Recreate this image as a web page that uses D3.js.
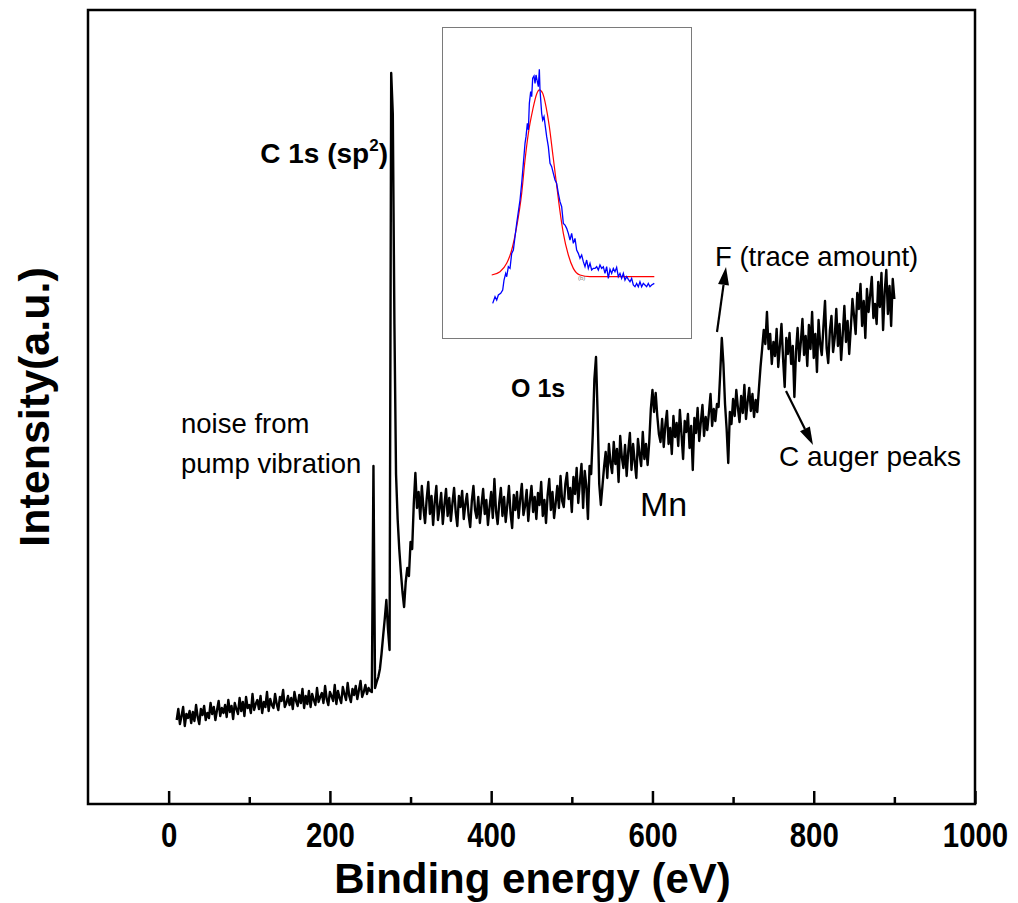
<!DOCTYPE html>
<html>
<head>
<meta charset="utf-8">
<script src="https://cdn.jsdelivr.net/npm/d3@7"></script>
<style>
  html, body { margin: 0; padding: 0; background: #fff; }
  svg { display: block; font-family: "Liberation Sans", Arial, sans-serif; }
</style>
</head>
<body>
<svg id="chart" width="1018" height="903"></svg>
<script>
// ---------------- DATA ----------------
// XPS survey: binding energy grid (eV) and intensity (a.u.)
const energyFirst = 10;      // eV of first sample
const energyStepEv = 2;      // sampling interval, eV
const intensity = [
  84, 95, 80, 88, 97, 78, 90, 86, 93, 81,          // 10-28
  92, 83, 99, 87, 80, 95, 89, 98, 84, 91,          // 30-48
  86, 101, 90, 97, 84, 94, 103, 88, 96, 91,        // 50-68
  99, 87, 104, 92, 98, 85, 101, 95, 90, 106,       // 70-88
  93, 102, 88, 107, 96, 99, 91, 110, 94, 100,      // 90-108
  104, 95, 108, 91, 102, 97, 112, 93, 105, 99,     // 110-128
  96, 110, 100, 94, 107, 103, 114, 97, 101, 108,   // 130-148
  99, 106, 95, 112, 103, 98, 109, 101, 115, 96,    // 150-168
  108, 100, 113, 97, 110, 104, 99, 116, 102, 107,  // 170-188
  111, 101, 118, 105, 99, 112, 108, 103, 119, 100, // 190-208
  113, 106, 101, 117, 110, 104, 121, 108, 102, 115,// 210-228
  109, 118, 105, 114, 123, 107, 112, 119, 110, 116,// 230-248
  113, 112, 338, 116, 122, 127, 135, 150, 168, 185,// 250-268
  204, 175, 154, 731, 690, 480, 330, 285, 255, 232,// 270-288
  212, 197, 222, 236, 228, 262, 255, 300, 331, 296,// 290-308
  312, 285, 318, 296, 281, 305, 322, 290, 308, 279,// 310-328
  302, 318, 284, 296, 311, 280, 299, 315, 288, 306,// 330-348
  283, 301, 316, 292, 278, 308, 297, 313, 285, 300,// 350-368
  310, 289, 277, 303, 318, 294, 286, 307, 281, 299,// 370-388
  315, 290, 304, 279, 297, 312, 286, 325, 293, 280,// 390-408
  301, 316, 288, 307, 282, 299, 318, 291, 276, 309,// 410-428
  294, 312, 286, 305, 320, 289, 298, 314, 283, 303,// 430-448
  318, 292, 307, 285, 311, 299, 322, 288, 304, 281,// 450-468
  309, 325, 294, 312, 286, 301, 318, 296, 328, 303,// 470-488
  297, 320, 331, 305, 316, 292, 327, 310, 336, 301,// 490-508
  322, 340, 296, 333, 318, 285, 338, 330, 370, 425,// 510-528
  447, 390, 320, 299, 318, 337, 352, 326, 360, 341,// 530-548
  331, 362, 340, 355, 322, 368, 347, 336, 359, 328,// 550-568
  353, 371, 334, 360, 342, 326, 365, 350, 338, 372,// 570-588
  345, 360, 339, 362, 395, 414, 392, 411, 388, 370,// 590-608
  362, 385, 357, 379, 393, 360, 376, 350, 388, 367,// 610-628
  381, 358, 394, 370, 345, 383, 372, 390, 356, 378,// 630-648
  334, 386, 371, 396, 363, 382, 399, 368, 387, 374,// 650-668
  391, 410, 378, 395, 383, 400, 397, 430, 466, 440,// 670-688
  400, 375, 341, 392, 380, 405, 388, 414, 396, 382,// 690-708
  408, 391, 419, 385, 402, 416, 393, 410, 387, 404,// 710-728
  392, 415, 437, 455, 474, 460, 492, 455, 470, 440,// 730-748
  462, 448, 475, 437, 458, 480, 445, 417, 466, 450,// 750-768
  471, 440, 458, 407, 452, 476, 443, 462, 485, 449,// 770-788
  468, 438, 479, 455, 492, 446, 470, 432, 484, 460,// 790-808
  449, 477, 503, 456, 441, 473, 488, 452, 466, 495,// 810-828
  458, 480, 444, 470, 498, 462, 483, 450, 476, 505,// 830-848
  488, 470, 511, 495, 520, 478, 503, 466, 515, 492,// 850-868
  509, 527, 486, 500, 480, 522, 497, 531, 474, 512,// 870-888
  534, 490, 518, 478, 525, 505                     // 890-900
];
const energy = intensity.map((_, i) => energyFirst + energyStepEv * i);

// Inset: measured peak (blue) and Gaussian fit (red), arbitrary units
const insetMeasured = [
  [3,10],[10,30],[15,20],[20,35],[27,40],[33,50],[37,80],[42,100],[45,90],[50,120],
  [55,115],[60,160],[65,170],[70,210],[75,250],[80,285],[85,320],[90,370],[95,430],[100,490],
  [103,510],[107,550],[110,530],[113,610],[117,645],[120,630],[123,685],[127,692],[130,670],[133,695],
  [137,675],[140,660],[143,712],[145,650],[150,580],[153,560],[157,570],[161,540],[165,510],[170,480],
  [175,430],[180,420],[185,400],[190,380],[195,370],[200,340],[205,315],[210,300],[215,250],[220,245],
  [225,235],[230,220],[235,200],[240,220],[245,190],[250,205],[255,170],[260,160],[265,145],[270,155],
  [275,135],[280,120],[285,140],[290,115],[295,130],[300,110],[305,115],[310,115],[315,120],[320,110],
  [325,125],[330,115],[335,120],[340,100],[345,120],[350,85],[355,112],[360,100],[365,115],[370,105],
  [375,118],[380,90],[385,100],[390,85],[395,100],[400,80],[405,90],[410,82],[415,75],[420,85],
  [425,65],[430,60],[435,70],[440,60],[445,75],[450,60],[455,70],[460,65],[465,60],[470,70],
  [475,60],[480,65],[488,70]
];
const insetFit = [
  [0,95],[25,105],[45,130],[60,170],[75,240],[90,340],[100,440],[110,520],[123,590],[135,638],
  [143,650],[153,640],[163,600],[173,540],[183,460],[193,380],[203,300],[215,220],[230,155],[245,115],
  [265,95],[295,90],[488,90]
];

const xTickMajor = [0, 200, 400, 600, 800, 1000];
const xTickMinor = [100, 300, 500, 700, 900];
const xTickLabels = ["0", "200", "400", "600", "800", "1000"];

// ---------------- DRAW ----------------
const svg = d3.select("#chart");
const plot = { left: 88, right: 975, top: 10, bottom: 804 };

const x = d3.scaleLinear().domain([-100, 1000]).range([plot.left, plot.right]);
const y = d3.scaleLinear().domain([0, 794]).range([plot.bottom, plot.top]);

// spectrum
const line = d3.line().x((d, i) => x(energy[i])).y(d => y(d));
svg.append("path")
  .datum(intensity)
  .attr("d", line)
  .attr("fill", "none")
  .attr("stroke", "#000")
  .attr("stroke-width", 2.4)
  .attr("stroke-linejoin", "round");

// frame
svg.append("rect")
  .attr("x", plot.left).attr("y", plot.top)
  .attr("width", plot.right - plot.left).attr("height", plot.bottom - plot.top)
  .attr("fill", "none").attr("stroke", "#000").attr("stroke-width", 2.5);

// x axis (ticks inward)
const axisG = svg.append("g").attr("transform", `translate(0,${plot.bottom})`);
axisG.call(d3.axisBottom(x).tickValues(xTickMajor).tickSize(-13).tickFormat((d, i) => xTickLabels[i]));
axisG.select(".domain").remove();
axisG.selectAll(".tick line").attr("stroke", "#000").attr("stroke-width", 2.5);
axisG.selectAll(".tick text")
  .attr("y", 43).attr("dy", 0)
  .attr("transform", "scale(0.84,1)")
  .style("font-family", "'Liberation Sans', Arial, sans-serif")
  .style("font-weight", "bold").style("font-size", "35px").attr("fill", "#000");
const minorG = svg.append("g").attr("transform", `translate(0,${plot.bottom})`);
minorG.call(d3.axisBottom(x).tickValues(xTickMinor).tickSize(-7).tickFormat(""));
minorG.select(".domain").remove();
minorG.selectAll(".tick line").attr("stroke", "#000").attr("stroke-width", 2.5);

// axis titles
svg.append("text")
  .attr("x", (x(-100) + x(1000)) / 2 + 1).attr("y", 893)
  .attr("text-anchor", "middle")
  .style("font-weight", "bold").style("font-size", "42px")
  .text("Binding energy (eV)");
svg.append("text")
  .attr("transform", "translate(49,407) rotate(-90)")
  .attr("text-anchor", "middle")
  .style("font-weight", "bold").style("font-size", "43px")
  .text("Intensity(a.u.)");

// annotations
const c1s = svg.append("text").attr("x", 388).attr("y", 163)
  .attr("text-anchor", "end")
  .style("font-weight", "bold").style("font-size", "28px");
c1s.append("tspan").text("C 1s (sp");
c1s.append("tspan").attr("dy", -12).style("font-size", "17px").text("2");
c1s.append("tspan").attr("dy", 12).text(")");

svg.append("text").attr("x", 511).attr("y", 397)
  .style("font-weight", "bold").style("font-size", "25px").text("O 1s");

svg.append("text").attr("x", 181).attr("y", 433).style("font-size", "27.5px").text("noise from");
svg.append("text").attr("x", 181).attr("y", 473).style("font-size", "27.5px").text("pump vibration");
svg.append("text").attr("x", 640).attr("y", 516).style("font-size", "34px").text("Mn");
svg.append("text").attr("x", 715).attr("y", 266).style("font-size", "27.5px").text("F (trace amount)");
svg.append("text").attr("x", 779).attr("y", 466).style("font-size", "28px").text("C auger peaks");

// arrows
function arrow(x1, y1, x2, y2) {
  const ang = Math.atan2(y2 - y1, x2 - x1);
  const L = 18, W = 5.5;
  const bx = x2 - L * Math.cos(ang), by = y2 - L * Math.sin(ang);
  svg.append("line").attr("x1", x1).attr("y1", y1).attr("x2", bx).attr("y2", by)
    .attr("stroke", "#000").attr("stroke-width", 2.2);
  const px = -Math.sin(ang) * W, py = Math.cos(ang) * W;
  svg.append("path")
    .attr("d", `M${x2},${y2}L${bx + px},${by + py}L${bx - px},${by - py}Z`)
    .attr("fill", "#000");
}
arrow(717, 332, 726, 267);
arrow(786, 391, 813, 445);

// inset
const inset = { left: 442.5, top: 27.5, width: 249, height: 311 };
svg.append("rect")
  .attr("x", inset.left).attr("y", inset.top)
  .attr("width", inset.width).attr("height", inset.height)
  .attr("fill", "#fff").attr("stroke", "#7a7a7a").attr("stroke-width", 1);
const ix = d3.scaleLinear().domain([0, 488]).range([491.7, 654.3]);
const iy = d3.scaleLinear().domain([0, 712]).range([306.7, 69.3]);
svg.append("path").datum(insetFit)
  .attr("d", d3.line().x(d => ix(d[0])).y(d => iy(d[1])).curve(d3.curveMonotoneX))
  .attr("fill", "none").attr("stroke", "#ff0000").attr("stroke-width", 1.2);
svg.append("path").datum(insetMeasured)
  .attr("d", d3.line().x(d => ix(d[0])).y(d => iy(d[1])))
  .attr("fill", "none").attr("stroke", "#0000ff").attr("stroke-width", 1.3);
svg.append("text").attr("x", 578).attr("y", 280)
  .style("font-size", "6px").attr("fill", "#777").text("(b)");
</script>
</body>
</html>
